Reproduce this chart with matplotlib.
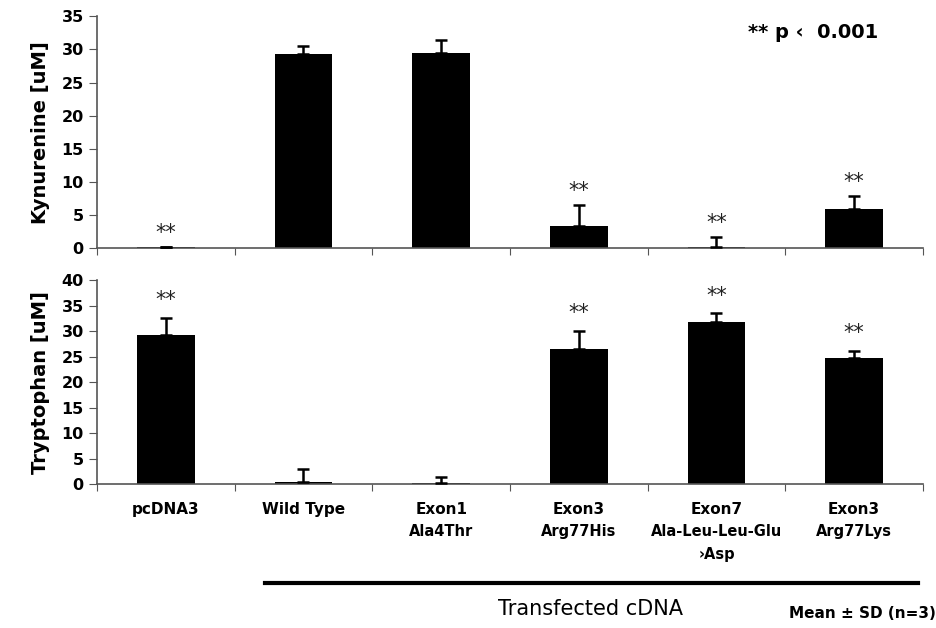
import matplotlib.pyplot as plt
from matplotlib.lines import Line2D
import numpy as np

groups = ["pcDNA3", "Wild Type", "Exon1\nAla4Thr", "Exon3\nArg77His",
          "Exon7\nAla-Leu-Leu-Glu\n›Asp", "Exon3\nArg77Lys"]

kyn_mean = [0.2, 29.3, 29.4, 3.3, 0.2, 5.9]
kyn_sd = [0.0, 1.2, 2.1, 3.2, 1.5, 1.9]
kyn_sig = [True, False, False, True, True, True]

trp_mean = [29.3, 0.4, 0.2, 26.4, 31.7, 24.8]
trp_sd = [3.3, 2.5, 1.3, 3.6, 1.8, 1.4]
trp_sig = [True, False, False, True, True, True]

fig = plt.figure(figsize=(9.37, 6.28), dpi=100)
ax_k = fig.add_axes([0.1035, 0.605, 0.8815, 0.369])
ax_t = fig.add_axes([0.1035, 0.229, 0.8815, 0.325])

x = np.arange(len(groups))


def draw_panel(ax, mean, sd, sig, ymax, ylabel, star_gap):
    ax.bar(x, mean, width=0.42, color="black", zorder=2)
    ax.errorbar(x, mean, yerr=[np.zeros(len(sd)), sd], fmt="none",
                ecolor="black", elinewidth=1.8, capsize=4, capthick=1.8, zorder=3)
    for xi, m, s, flag in zip(x, mean, sd, sig):
        if flag:
            ax.text(xi, m + s + star_gap, "**", ha="center", va="bottom",
                    fontsize=15, color="#222222")
    ax.set_xlim(-0.5, len(groups) - 0.5)
    ax.set_ylim(0, ymax)
    ax.set_yticks(np.arange(0, ymax + 1, 5))
    ax.set_xticks(np.arange(-0.5, len(groups)), minor=False)
    ax.set_xticklabels([])
    ax.tick_params(axis="x", direction="out", length=5, color="#555555")
    ax.tick_params(axis="y", direction="out", length=6, color="#555555",
                   labelsize=11.5)
    for lab in ax.get_yticklabels():
        lab.set_fontweight("bold")
    for side in ["top", "right"]:
        ax.spines[side].set_visible(False)
    for side in ["left", "bottom"]:
        ax.spines[side].set_color("#555555")
        ax.spines[side].set_linewidth(1.2)
    ax.set_ylabel(ylabel, fontsize=14, fontweight="bold", labelpad=8)


draw_panel(ax_k, kyn_mean, kyn_sd, kyn_sig, 35, "Kynurenine [uM]", 0.6)
draw_panel(ax_t, trp_mean, trp_sd, trp_sig, 40, "Tryptophan [uM]", 1.5)

# group names under the lower panel
for xi, name in zip(x, groups):
    lines = name.split("\n")
    ax_t.annotate(lines[0], xy=(xi, 0), xycoords=("data", "axes fraction"),
                  xytext=(0, -13), textcoords="offset points", ha="center",
                  va="top", fontsize=11, fontweight="bold")
    for j, sub in enumerate(lines[1:]):
        ax_t.annotate(sub, xy=(xi, 0), xycoords=("data", "axes fraction"),
                      xytext=(0, -29 - 16.5 * j), textcoords="offset points",
                      ha="center", va="top", fontsize=10.5, fontweight="bold")

fig.add_artist(Line2D([265 / 937, 918 / 937], [1 - 583 / 628, 1 - 583 / 628],
                      color="black", linewidth=3))
fig.text(590 / 937, 1 - 609 / 628, "Transfected cDNA", ha="center",
         va="center", fontsize=15)
fig.text(862 / 937, 1 - 614 / 628, "Mean ± SD (n=3)", ha="center",
         va="center", fontsize=11, fontweight="bold")
fig.text(813 / 937, 1 - 32 / 628, "** p ‹  0.001", ha="center", va="center",
         fontsize=14, fontweight="bold")

fig.savefig("out.png", dpi=100, facecolor="white")
